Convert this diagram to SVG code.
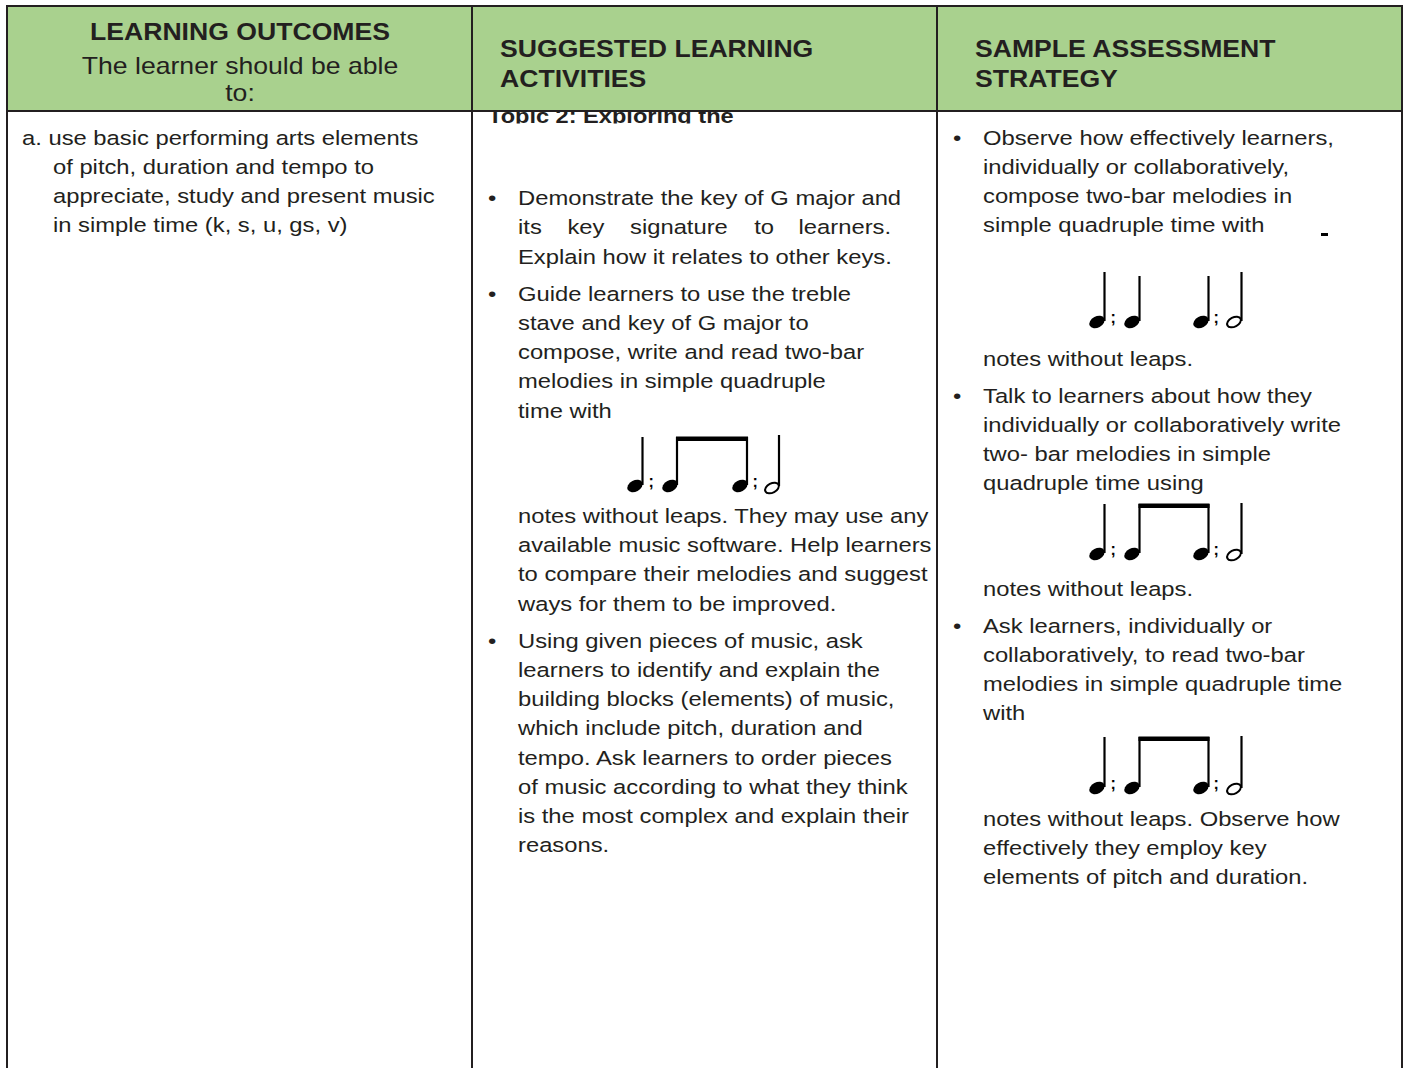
<svg xmlns="http://www.w3.org/2000/svg" width="1405" height="1068" viewBox="0 0 1405 1068">
<style>
.t{font-family:"Liberation Sans",Arial,sans-serif;font-size:20.5px;fill:#231f20}
.h{font-family:"Liberation Sans",Arial,sans-serif;font-size:23px;fill:#231f20}
.b{font-weight:bold}
.ln{stroke:#231f20;stroke-width:2;fill:none}
.stem{stroke:#000;stroke-width:2.2}
.dot{font-family:"Liberation Sans",Arial,sans-serif;font-size:16px;font-weight:bold;fill:#000}
</style>
<defs>
<ellipse id="fh" cx="0" cy="0" rx="8.2" ry="5.6" transform="rotate(-28)" fill="#000"/>
<ellipse id="hh" cx="0" cy="0" rx="7.4" ry="4.6" transform="rotate(-28)" fill="none" stroke="#000" stroke-width="2"/>
<clipPath id="topicClip"><rect x="473" y="112" width="463" height="11.5"/></clipPath>
</defs>
<rect x="0" y="0" width="1405" height="1068" fill="#fff"/>
<g id="header">
<rect x="7" y="6" width="1395" height="105" fill="#a9d18e"/>
<g transform="translate(240 0) scale(1.157 1)">
<text class="h b" x="0" y="40" text-anchor="middle">LEARNING OUTCOMES</text>
<text class="h" x="0" y="74" text-anchor="middle">The learner should be able</text>
<text class="h" x="0" y="101" text-anchor="middle">to:</text>
</g>
<g transform="translate(500 0) scale(1.157 1)">
<text class="h b" x="0" y="57">SUGGESTED LEARNING</text>
<text class="h b" x="0" y="87">ACTIVITIES</text>
</g>
<g transform="translate(975 0) scale(1.157 1)">
<text class="h b" x="0" y="57">SAMPLE ASSESSMENT</text>
<text class="h b" x="0" y="87">STRATEGY</text>
</g>
</g>
<g id="outcomes">
<g transform="translate(22 0) scale(1.16 1)">
<text class="t" x="0" y="145">a. use basic performing arts elements</text>
<text class="t" x="26.7" y="174">of pitch, duration and tempo to</text>
<text class="t" x="26.7" y="203">appreciate, study and present music</text>
<text class="t" x="26.7" y="232">in simple time (k, s, u, gs, v)</text>
</g>
</g>
<g id="activities">
<g clip-path="url(#topicClip)">
<g transform="translate(488 0) scale(1.15 1)">
<text class="t b" x="0" y="123">Topic 2: Exploring the</text>
</g>
</g>
<g transform="translate(518 0) scale(1.16 1)">
<text class="t" x="-25.9" y="205">•</text>
<text class="t" x="0" y="205">Demonstrate the key of G major and</text>
<text class="t" y="234"><tspan x="0">its</tspan><tspan x="42.6">key</tspan><tspan x="96.6">signature</tspan><tspan x="203.6">to</tspan><tspan x="241.9">learners.</tspan></text>
<text class="t" x="0" y="264">Explain how it relates to other keys.</text>
<text class="t" x="-25.9" y="301">•</text>
<text class="t" x="0" y="301">Guide learners to use the treble</text>
<text class="t" x="0" y="330">stave and key of G major to</text>
<text class="t" x="0" y="359">compose, write and read two-bar</text>
<text class="t" x="0" y="388">melodies in simple quadruple</text>
<text class="t" x="0" y="418">time with</text>
<text class="t" x="0" y="523">notes without leaps. They may use any</text>
<text class="t" x="0" y="552">available music software. Help learners</text>
<text class="t" x="0" y="581">to compare their melodies and suggest</text>
<text class="t" x="0" y="611">ways for them to be improved.</text>
<text class="t" x="-25.9" y="648">•</text>
<text class="t" x="0" y="648">Using given pieces of music, ask</text>
<text class="t" x="0" y="677">learners to identify and explain the</text>
<text class="t" x="0" y="706">building blocks (elements) of music,</text>
<text class="t" x="0" y="735">which include pitch, duration and</text>
<text class="t" x="0" y="765">tempo. Ask learners to order pieces</text>
<text class="t" x="0" y="794">of music according to what they think</text>
<text class="t" x="0" y="823">is the most complex and explain their</text>
<text class="t" x="0" y="852">reasons.</text>
</g>
<g id="rhythm-activities">
<use href="#fh" x="635" y="486"/>
<line class="stem" x1="642.5" y1="437" x2="642.5" y2="485"/>
<text class="dot" x="648.5" y="487">;</text>
<use href="#fh" x="670" y="486"/>
<line class="stem" x1="677" y1="437" x2="677" y2="485"/>
<rect x="676" y="436.5" width="72" height="4.5" fill="#000"/>
<use href="#fh" x="740" y="486"/>
<line class="stem" x1="747" y1="437" x2="747" y2="485"/>
<text class="dot" x="752.5" y="487">;</text>
<use href="#hh" x="772" y="488"/>
<line class="stem" x1="779" y1="435" x2="779" y2="486"/>
</g>
</g>
<g id="assessment">
<g transform="translate(983 0) scale(1.16 1)">
<text class="t" x="-25.9" y="145">•</text>
<text class="t" x="0" y="145">Observe how effectively learners,</text>
<text class="t" x="0" y="174">individually or collaboratively,</text>
<text class="t" x="0" y="203">compose two-bar melodies in</text>
<text class="t" x="0" y="232">simple quadruple time with</text>
<text class="t" x="0" y="366">notes without leaps.</text>
<text class="t" x="-25.9" y="403">•</text>
<text class="t" x="0" y="403">Talk to learners about how they</text>
<text class="t" x="0" y="432">individually or collaboratively write</text>
<text class="t" x="0" y="461">two- bar melodies in simple</text>
<text class="t" x="0" y="490">quadruple time using</text>
<text class="t" x="0" y="596">notes without leaps.</text>
<text class="t" x="-25.9" y="633">•</text>
<text class="t" x="0" y="633">Ask learners, individually or</text>
<text class="t" x="0" y="662">collaboratively, to read two-bar</text>
<text class="t" x="0" y="691">melodies in simple quadruple time</text>
<text class="t" x="0" y="720">with</text>
<text class="t" x="0" y="826">notes without leaps. Observe how</text>
<text class="t" x="0" y="855">effectively they employ key</text>
<text class="t" x="0" y="884">elements of pitch and duration.</text>
</g>
<rect x="1321" y="233" width="7" height="3" fill="#000"/>
<g id="rhythm-a1">
<use href="#fh" x="1097" y="322"/>
<line class="stem" x1="1104.5" y1="272" x2="1104.5" y2="321"/>
<text class="dot" x="1110.5" y="323">;</text>
<use href="#fh" x="1132" y="322"/>
<line class="stem" x1="1139.5" y1="276" x2="1139.5" y2="321"/>
<use href="#fh" x="1201" y="322"/>
<line class="stem" x1="1208.5" y1="276" x2="1208.5" y2="321"/>
<text class="dot" x="1213.5" y="323">;</text>
<use href="#hh" x="1234" y="322"/>
<line class="stem" x1="1241.5" y1="272" x2="1241.5" y2="321"/>
</g>
<g id="rhythm-a2">
<use href="#fh" x="1097" y="554"/>
<line class="stem" x1="1104.5" y1="504" x2="1104.5" y2="553"/>
<text class="dot" x="1110.5" y="555">;</text>
<use href="#fh" x="1132" y="554"/>
<line class="stem" x1="1139.5" y1="504" x2="1139.5" y2="553"/>
<rect x="1138.5" y="503.5" width="71" height="4.5" fill="#000"/>
<use href="#fh" x="1201" y="554"/>
<line class="stem" x1="1208.5" y1="504" x2="1208.5" y2="553"/>
<text class="dot" x="1213.5" y="555">;</text>
<use href="#hh" x="1234" y="555"/>
<line class="stem" x1="1241.5" y1="503" x2="1241.5" y2="554"/>
</g>
<g id="rhythm-a3">
<use href="#fh" x="1097" y="788"/>
<line class="stem" x1="1104.5" y1="737" x2="1104.5" y2="787"/>
<text class="dot" x="1110.5" y="789">;</text>
<use href="#fh" x="1132" y="788"/>
<line class="stem" x1="1139.5" y1="737" x2="1139.5" y2="787"/>
<rect x="1138.5" y="736.5" width="71" height="4.5" fill="#000"/>
<use href="#fh" x="1201" y="788"/>
<line class="stem" x1="1208.5" y1="737" x2="1208.5" y2="787"/>
<text class="dot" x="1213.5" y="789">;</text>
<use href="#hh" x="1234" y="789"/>
<line class="stem" x1="1241.5" y1="736" x2="1241.5" y2="788"/>
</g>
</g>
<g id="connectors">
<line class="ln" x1="6" y1="6" x2="1403" y2="6"/>
<line class="ln" x1="7" y1="111" x2="1402" y2="111"/>
<line class="ln" x1="7" y1="5" x2="7" y2="1068"/>
<line class="ln" x1="472" y1="6" x2="472" y2="1068"/>
<line class="ln" x1="937" y1="6" x2="937" y2="1068"/>
<line class="ln" x1="1402" y1="5" x2="1402" y2="1068"/>
</g>
</svg>
